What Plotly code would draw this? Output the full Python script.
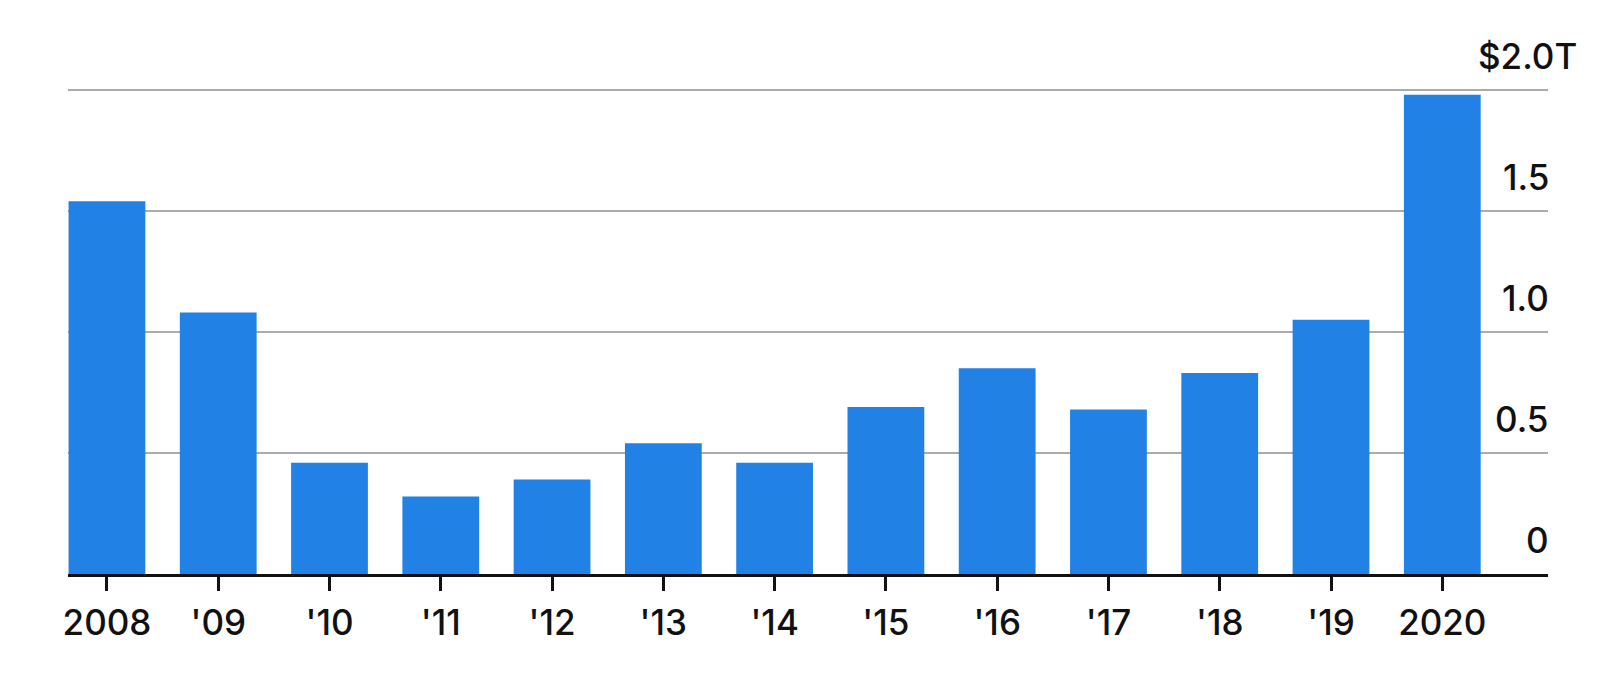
import plotly.graph_objects as go

# Annual totals, trillions of dollars
years = ["2008", "'09", "'10", "'11", "'12", "'13", "'14", "'15", "'16", "'17", "'18", "'19", "2020"]
values = [1.54, 1.08, 0.46, 0.32, 0.39, 0.54, 0.46, 0.69, 0.85, 0.68, 0.83, 1.05, 1.98]

grid_vals = [0, 0.5, 1.0, 1.5, 2.0]
grid_text = ["0", "0.5", "1.0", "1.5", "$2.0T"]

fig = go.Figure()
fig.add_trace(go.Bar(
    x=years,
    y=values,
    marker=dict(color='#2181e5', line=dict(width=0)),
))

# right-hand value labels sit just above their gridline
for v, t in zip(grid_vals, grid_text):
    fig.add_annotation(
        x=1, xref='paper', y=v, yref='y',
        text=t, showarrow=False,
        xanchor='right', yanchor='middle',
        xshift=31 if t.endswith('T') else 3, yshift=34,
        font=dict(size=35, color='#111111', weight=500),
    )

# page body has an 8px default margin, so the figure is 8px smaller each way
fig.update_layout(
    width=1592, height=665,
    margin=dict(l=60, r=52, t=77, b=99),
    plot_bgcolor='white', paper_bgcolor='white',
    bargap=0.31,
    showlegend=False,
    font=dict(family='Inter, Liberation Sans, Arial, sans-serif', color='#111111'),
    xaxis=dict(
        range=[-0.35, 12.95],
        automargin=False,
        showline=True, linecolor='#111111', linewidth=3,
        ticks='outside', ticklen=14, tickwidth=2.5, tickcolor='#111111',
        tickfont=dict(size=35, weight=500),
        ticklabelstandoff=2,
        showgrid=False,
    ),
    yaxis=dict(
        range=[0, 2.02],
        automargin=False,
        tickvals=grid_vals[1:],
        showticklabels=False,
        showgrid=True, gridcolor='#ababab', gridwidth=2,
        zeroline=False,
    ),
)

fig.write_html("out.html")
